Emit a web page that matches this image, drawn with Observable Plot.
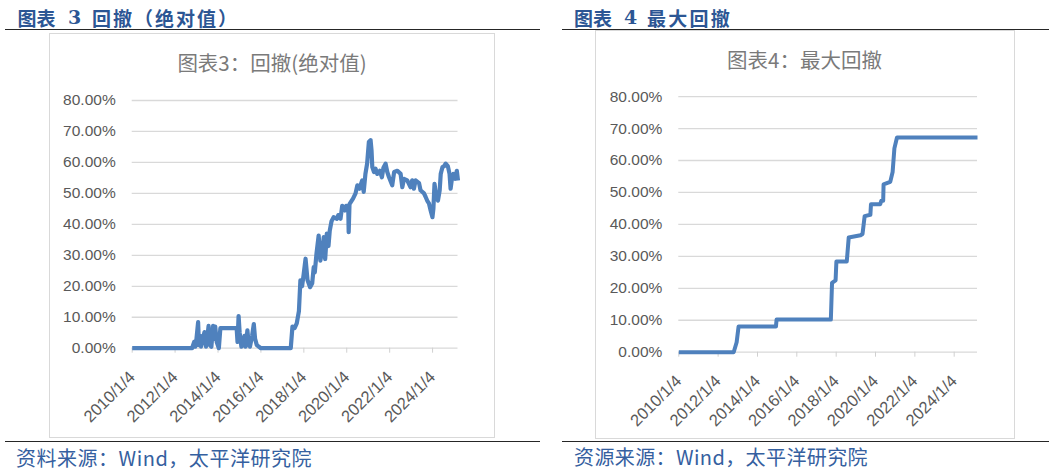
<!DOCTYPE html>
<html>
<head>
<meta charset="utf-8">
<script src="https://cdn.jsdelivr.net/npm/d3@7"></script>
<script src="https://cdn.jsdelivr.net/npm/@observablehq/plot@0.6"></script>
<style>
  html, body { margin: 0; padding: 0; background: #fff; }
  body { width: 1054px; height: 473px; position: relative; overflow: hidden; font-family: "Noto Sans CJK SC", sans-serif; }
  .abs { position: absolute; white-space: pre; line-height: 1; }
  .hdr { font-weight: bold; color: #2c5694; font-size: 19px; }
  .ftr { color: #3560a0; font-size: 20px; }
  .rule { position: absolute; height: 1.5px; background: #262626; }
  .box { position: absolute; border: 1.3px solid #d9d9d9; box-sizing: border-box; background: #fff; }
  .ttl { color: #7a7a7a; font-size: 20.5px; text-align: center; }
  .chart { position: absolute; }
</style>
</head>
<body>
<script>
// ---------------- data ----------------
const xTickLabels = ["2010/1/4","2012/1/4","2014/1/4","2016/1/4","2018/1/4","2020/1/4","2022/1/4","2024/1/4"];
const xDomain = ["2010-01-04", "2025-03-12"];
const yTicks = [0, 10, 20, 30, 40, 50, 60, 70, 80];

// 图表3：回撤(绝对值), % values
const ddDates = [
  "2010-01-04","2012-10-19","2012-11-24","2012-12-13","2013-01-02","2013-01-30","2013-02-13","2013-03-07","2013-03-21",
  "2013-04-20","2013-05-19","2013-06-13","2013-07-09","2013-07-27","2013-08-18","2013-09-13","2013-10-12","2013-10-30",
  "2013-11-17","2013-12-13","2014-01-18","2014-02-13","2014-11-17","2014-12-02","2014-12-20","2015-01-07","2015-02-06",
  "2015-03-07","2015-03-29","2015-04-20","2015-05-19","2015-06-06","2015-07-02","2015-08-07","2015-09-05","2015-09-27",
  "2015-10-26","2016-01-04","2017-05-26","2017-06-24","2017-07-31","2017-09-05","2017-10-12","2017-11-06","2017-12-05",
  "2018-01-02","2018-02-02","2018-03-07","2018-04-20","2018-05-26","2018-06-21","2018-07-09","2018-08-07","2018-09-13",
  "2018-10-12","2018-11-17","2018-12-09","2019-01-02","2019-01-30","2019-02-27","2019-03-21","2019-04-20","2019-05-26",
  "2019-07-20","2019-08-14","2019-09-20","2019-10-19","2019-11-14","2019-12-02","2019-12-24","2020-01-30","2020-02-06",
  "2020-02-20","2020-04-20","2020-06-02","2020-07-02","2020-08-07","2020-09-23","2020-10-19","2020-11-17","2020-12-16",
  "2021-01-15","2021-02-13","2021-03-01","2021-03-14","2021-04-12","2021-05-08","2021-06-06","2021-07-20","2021-08-25",
  "2021-09-20","2021-10-26","2021-11-24","2021-12-24","2022-02-16","2022-03-21","2022-05-15","2022-07-09","2022-08-07",
  "2022-09-05","2022-10-30","2022-12-24","2023-01-22","2023-02-20","2023-03-21","2023-05-19","2023-06-13","2023-08-11",
  "2023-09-05","2023-10-04","2023-11-03","2023-12-02","2024-01-02","2024-01-18","2024-02-06","2024-03-07","2024-04-05",
  "2024-05-04","2024-05-22","2024-06-21","2024-07-20","2024-08-14","2024-09-20","2024-10-19","2024-11-06","2024-12-02",
  "2024-12-24","2025-01-22","2025-02-20","2025-03-12"
];
const ddValues = [
  0, 0, 2, 0.5, 3, 8.4, 1, 4, 0.5,
  3, 5.2, 0.5, 4, 7.2, 1, 0.5, 7.2, 3,
  7, 2, 0, 6.5, 6.5, 2, 10.4, 5, 0.5,
  1, 4, 0.5, 5.8, 2, 0.5, 4, 7.8, 3,
  1, 0, 0, 7, 6.5, 8, 12, 21.9, 20,
  24, 28.9, 22, 19.7, 21, 26.2, 24.5, 30.5, 36.4,
  28.3, 32, 35.9, 28.8, 37, 33, 38, 41, 42.3,
  41.8, 43, 41.8, 46, 45, 44.5, 46, 45.3, 37.5,
  46.5, 48.3, 50, 52.6, 51.5, 54.2, 50.5, 56.3, 59.6,
  66.6, 67.2, 63.9, 58.5, 56.9, 58, 56.3, 57.3, 55.2,
  58.3, 59.6, 56.9, 55.2, 52.6, 56.9, 57.3, 56.3, 52,
  54.7, 54.2, 52, 54.2, 51.5, 54.2, 53.3, 51, 50,
  49, 47.7, 46.8, 44.5, 42.3, 45, 53.1, 48.8, 47.7,
  51, 56.3, 58.5, 58.8, 59.6, 58.8, 56.3, 51.5, 55.2,
  56.3, 54.7, 57.3, 54.2
];

// 图表4：最大回撤, % values
const mddDates = [
  "2010-01-04","2012-10-19","2012-12-13","2013-01-18","2014-12-13","2014-12-24","2017-09-27","2017-10-19","2017-12-24",
  "2018-01-08","2018-07-20","2018-08-25","2019-04-01","2019-05-08","2019-06-17","2019-10-01","2019-10-12","2020-04-01",
  "2020-04-20","2020-05-26","2020-06-02","2020-10-04","2020-11-17","2020-12-20","2021-02-06","2025-03-12"
];
const mddValues = [
  0, 0, 3.1, 8.05, 8.05, 10.2, 10.2, 21.7, 22.5,
  28.4, 28.4, 35.9, 36.6, 37, 42.6, 43, 46.3, 46.3,
  47.4, 47.4, 52.5, 53.3, 56.4, 63.8, 67.2, 67.2
];

// ---------------- helpers ----------------
const parse = d3.utcParse("%Y-%m-%d");
const tickDates = xTickLabels.map(s => { const [y, m, d] = s.split("/").map(Number); return new Date(Date.UTC(y, m - 1, d)); });
const tickLabelOf = d => xTickLabels[tickDates.findIndex(t => +t === +d)];

function el(tag, cls, style, text) {
  const e = document.createElement(tag);
  if (cls) e.className = cls;
  Object.assign(e.style, style);
  if (text != null) e.textContent = text;
  document.body.appendChild(e);
  return e;
}
function fit(e, target) {
  e.style.letterSpacing = "0px";
  const w = e.getBoundingClientRect().width;
  const n = [...e.textContent].length;
  e.style.letterSpacing = ((target - w) / n) + "px";
}

function makeChart(dates, values, opt) {
  const data = dates.map((d, i) => ({date: parse(d), v: values[i]}));
  const chart = Plot.plot({
    width: opt.width,
    height: opt.height,
    marginLeft: opt.ml, marginRight: opt.mr, marginTop: opt.mt, marginBottom: opt.mb,
    style: {fontFamily: "'Liberation Sans', Arial, sans-serif", fontSize: "15.5px", color: "#595959", background: "transparent", overflow: "visible"},
    x: {type: "utc", domain: xDomain.map(parse), label: null},
    y: {domain: [0, 80], label: null},
    marks: [
      Plot.gridY(yTicks, {stroke: "#d9d9d9", strokeOpacity: 1, strokeWidth: 1.3}),
      Plot.axisY(yTicks, {tickSize: 0, tickPadding: opt.ypad, tickFormat: d => d.toFixed(2) + "%", fill: "#595959", label: null}),
      Plot.axisX(tickDates, {tickSize: 5, tickPadding: 21, tickRotate: -45, fontSize: 16.5, tickFormat: tickLabelOf, stroke: "#d0d0d0", fill: "#595959", strokeOpacity: 1, label: null}),
      Plot.line(data, {x: "date", y: "v", stroke: "#4f81bd", strokeWidth: opt.sw, strokeLinejoin: "round", strokeLinecap: "butt"})
    ]
  });
  chart.classList.add("chart");
  chart.style.left = opt.left + "px";
  chart.style.top = opt.top + "px";
  document.body.appendChild(chart);
}

// ---------------- page furniture ----------------
el("div", "rule", {left: "5px", width: "535px", top: "28.5px"});
el("div", "rule", {left: "562px", width: "487px", top: "28.5px"});
el("div", "rule", {left: "5px", width: "535px", top: "440.5px"});
el("div", "rule", {left: "562px", width: "487px", top: "440.5px"});

el("div", "box", {left: "49px", top: "32.5px", width: "446px", height: "405px"});
el("div", "box", {left: "595px", top: "30px", width: "419.5px", height: "409px"});

// headers
el("div", "abs hdr", {left: "17.5px", top: "7.5px"}, "图表");
el("div", "abs hdr", {left: "68px", top: "7.5px", fontFamily: "'DejaVu Serif', serif"}, "3");
const h1 = el("div", "abs hdr", {left: "92px", top: "7.5px"}, "回撤（绝对值）");
fit(h1, 147);
el("div", "abs hdr", {left: "574px", top: "7.5px"}, "图表");
el("div", "abs hdr", {left: "624px", top: "7.5px", fontFamily: "'DejaVu Serif', serif"}, "4");
const h2 = el("div", "abs hdr", {left: "647px", top: "7.5px"}, "最大回撤");
fit(h2, 85);

// chart titles
el("div", "abs ttl", {left: "49px", width: "446px", top: "52px"}, "图表3：回撤(绝对值)");
el("div", "abs ttl", {left: "595px", width: "419px", top: "48.5px"}, "图表4：最大回撤");

// footers
const f1 = el("div", "abs ftr", {left: "16px", top: "448px"}, "资料来源：Wind，太平洋研究院");
fit(f1, 296);
const f2 = el("div", "abs ftr", {left: "574px", top: "446.5px"}, "资源来源：Wind，太平洋研究院");
fit(f2, 294);

// ---------------- charts ----------------
makeChart(ddDates, ddValues, {left: 49, top: 33, width: 440, height: 404, ml: 82.7, mr: 31.5, mt: 67, mb: 89.3, ypad: 16.5, sw: 4.2});
makeChart(mddDates, mddValues, {left: 595, top: 30, width: 418, height: 408, ml: 83.3, mr: 36, mt: 66.1, mb: 86.3, ypad: 16.5, sw: 4});
</script>
</body>
</html>
